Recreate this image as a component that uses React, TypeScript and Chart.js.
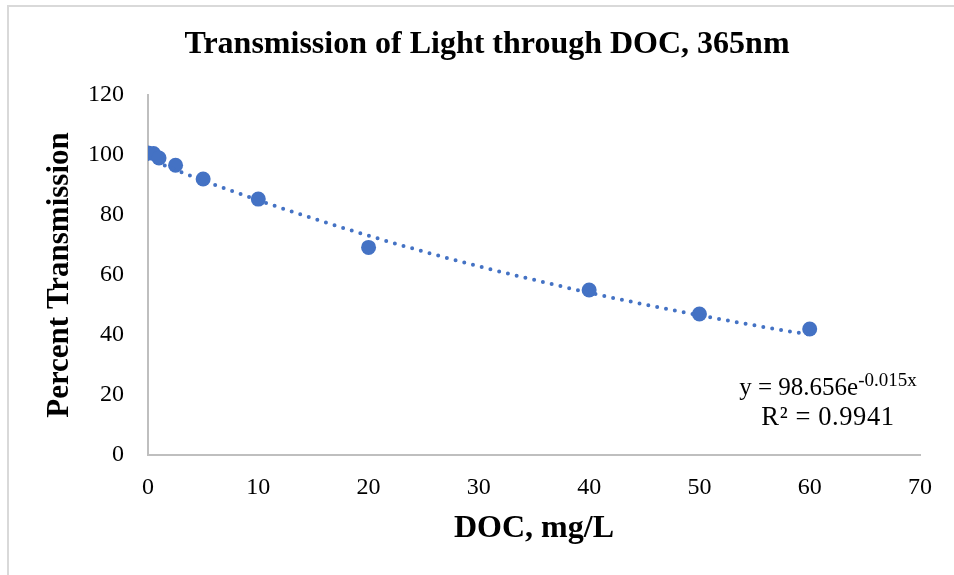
import React, { useEffect, useRef } from "react";
import { Chart, registerables } from "chart.js";

Chart.register(...registerables);

// ---- data ----
const docValues = [0, 0.5, 1, 2.5, 5, 10, 20, 40, 50, 60];
const transmission = [100.7, 100.5, 99, 96.6, 92, 85.3, 69.2, 55, 47, 42];
const trendX = [0, 5, 10, 15, 20, 25, 30, 35, 40, 45, 50, 55, 60];
const trendY = [98.7, 91.5, 84.9, 78.8, 73.1, 67.8, 62.9, 58.4, 54.1, 50.2, 46.6, 43.2, 40.1];
const xTickValues = [0, 10, 20, 30, 40, 50, 60, 70];
const yTickValues = [0, 20, 40, 60, 80, 100, 120];
const chartTitle = "Transmission of Light through DOC, 365nm";
const xTitle = "DOC, mg/L";
const yTitle = "Percent Transmission";
const eqMain = "y = 98.656e";
const eqSup = "-0.015x";
const eqR2 = "R² = 0.9941";

const BLUE = "#4472C4";
const SERIF = '"Liberation Serif", "Times New Roman", serif';

const eqPlugin = {
  id: "eqLabel",
  afterDraw(chart: any) {
    const ctx = chart.ctx;
    const area = chart.chartArea;
    ctx.save();
    ctx.fillStyle = "#000";
    ctx.textBaseline = "alphabetic";
    ctx.textAlign = "left";
    const cx = area.right - 92;
    const mainFont = `25px ${SERIF}`;
    const supFont = `19px ${SERIF}`;
    ctx.font = mainFont;
    const wMain = ctx.measureText(eqMain).width;
    ctx.font = supFont;
    const wSup = ctx.measureText(eqSup).width;
    const start = cx - (wMain + wSup) / 2;
    const y1 = area.bottom - 60;
    ctx.font = mainFont;
    ctx.fillText(eqMain, start, y1);
    ctx.font = supFont;
    ctx.fillText(eqSup, start + wMain, y1 - 9);
    ctx.font = `26.5px ${SERIF}`;
    try {
      (ctx as any).letterSpacing = "0.6px";
    } catch (e) {}
    ctx.textAlign = "center";
    ctx.fillText(eqR2, cx, y1 + 30);
    try {
      (ctx as any).letterSpacing = "0px";
    } catch (e) {}
    ctx.restore();
  },
};

export default function App() {
  const ref = useRef<HTMLCanvasElement | null>(null);

  useEffect(() => {
    if (!ref.current) return;
    const chart = new Chart(ref.current, {
      type: "scatter",
      data: {
        datasets: [
          {
            label: "Trend",
            data: trendX.map((x, i) => ({ x, y: trendY[i] })),
            showLine: true,
            borderColor: BLUE,
            borderWidth: 4,
            borderDash: [0, 9],
            borderCapStyle: "round",
            pointRadius: 0,
            cubicInterpolationMode: "monotone",
            fill: false,
            order: 1,
          } as any,
          {
            label: "Data",
            data: docValues.map((x, i) => ({ x, y: transmission[i] })),
            backgroundColor: BLUE,
            borderColor: BLUE,
            pointRadius: 7.5,
            pointBorderWidth: 0,
            showLine: false,
            order: 2,
          } as any,
        ],
      },
      options: {
        responsive: false,
        animation: false,
        devicePixelRatio: 1,
        layout: { padding: 0 },
        plugins: {
          legend: { display: false },
          tooltip: { enabled: false },
          title: {
            display: true,
            text: chartTitle,
            color: "#000",
            font: { family: SERIF, size: 32, weight: "bold" },
            padding: { top: 26, bottom: 30.6 },
          },
        },
        scales: {
          x: {
            type: "linear",
            min: 0,
            max: 70,
            afterBuildTicks: (s: any) => {
              s.ticks = xTickValues.map((v) => ({ value: v }));
            },
            afterFit: (s: any) => {
              s.height = 120;
            },
            grid: { display: false, drawTicks: false },
            border: { display: true, color: "#bfbfbf", width: 2 },
            ticks: {
              color: "#000",
              padding: 18,
              font: { family: SERIF, size: 24 },
              maxRotation: 0,
            },
            title: {
              display: true,
              text: xTitle,
              color: "#000",
              font: { family: SERIF, size: 32, weight: "bold" },
              padding: { top: 0, bottom: 27 },
            },
          },
          y: {
            type: "linear",
            min: 0,
            max: 120,
            afterBuildTicks: (s: any) => {
              s.ticks = yTickValues.map((v) => ({ value: v }));
            },
            afterFit: (s: any) => {
              s.width = 148;
            },
            grid: { display: false, drawTicks: false },
            border: { display: true, color: "#bfbfbf", width: 2 },
            ticks: {
              color: "#000",
              padding: 24,
              font: { family: SERIF, size: 24 },
            },
            title: {
              display: true,
              text: yTitle,
              color: "#000",
              font: { family: SERIF, size: 31, weight: "bold" },
              padding: { top: 41, bottom: 0 },
            },
          },
          yRight: {
            type: "linear",
            position: "right",
            display: true,
            min: 0,
            max: 120,
            afterFit: (s: any) => {
              s.width = 54;
            },
            grid: { display: false, drawTicks: false },
            border: { display: false },
            ticks: { display: false },
          },
        },
      } as any,
      plugins: [eqPlugin],
    });
    return () => chart.destroy();
  }, []);

  return (
    <div
      style={{
        position: "fixed",
        left: 0,
        top: 0,
        width: 954,
        height: 575,
        overflow: "hidden",
        background: "#fff",
      }}
    >
      <canvas ref={ref} width={974} height={575} style={{ display: "block" }} />
      <div
        style={{
          position: "absolute",
          left: 7,
          top: 5,
          width: 1100,
          height: 1100,
          borderTop: "2px solid #d9d9d9",
          borderLeft: "2px solid #d9d9d9",
          pointerEvents: "none",
        }}
      />
    </div>
  );
}
